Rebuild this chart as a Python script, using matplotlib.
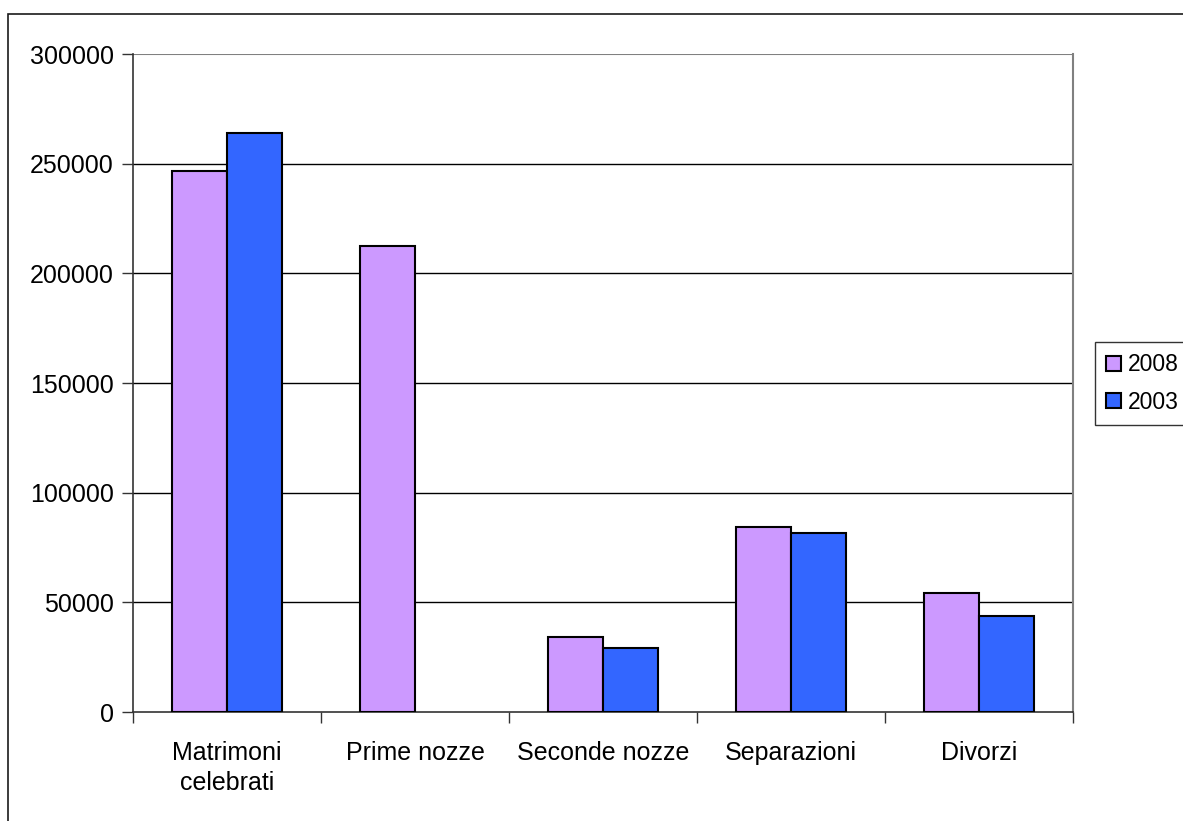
import numpy as np
import matplotlib
matplotlib.use("Agg")
import matplotlib.pyplot as plt
from matplotlib.patches import Rectangle

plt.rcParams['font.family'] = ['Liberation Sans', 'DejaVu Sans']

categories = ["Matrimoni\ncelebrati", "Prime nozze", "Seconde nozze", "Separazioni", "Divorzi"]
series_names = ["2008", "2003"]
values_2008 = [246613, 212476, 34137, 84165, 54351]
values_2003 = [264026, np.nan, 29300, 81744, 43856]
y_ticks = [0, 50000, 100000, 150000, 200000, 250000, 300000]

colors = ["#CC99FF", "#3366FF"]

W, H = 1183, 821
fig = plt.figure(figsize=(W / 100, H / 100), dpi=100)
fig.patch.set_facecolor("white")

# chart area frame
fig.patches.append(Rectangle((8 / W, -0.2), 1.5, 1.2 - 14 / H,
                             transform=fig.transFigure, fill=False,
                             edgecolor="#1a1a1a", linewidth=1.2, zorder=0))

ax = fig.add_axes([133 / W, (H - 712) / H, (1073 - 133) / W, (712 - 54) / H])

x = np.arange(len(categories))
bw = 0.29
ax.bar(x - bw / 2, values_2008, bw, color=colors[0], edgecolor="black",
       linewidth=1.5, label=series_names[0], zorder=3)
ax.bar(x + bw / 2, values_2003, bw, color=colors[1], edgecolor="black",
       linewidth=1.5, label=series_names[1], zorder=3)

ax.set_xlim(-0.5, len(categories) - 0.5)
ax.set_ylim(0, 300000)
ax.set_yticks(y_ticks)
ax.set_yticklabels([str(v) for v in y_ticks])

# category labels centred, ticks on category boundaries
ax.set_xticks(x)
ax.set_xticklabels(categories, linespacing=1.3)
ax.tick_params(axis="x", which="major", length=0, pad=21, labelsize=18)
ax.set_xticks(np.arange(-0.5, len(categories)), minor=True)
ax.tick_params(axis="x", which="minor", length=8, width=1, color="#333333",
               direction="out")
ax.tick_params(axis="y", length=8, width=1, color="#333333", pad=6,
               labelsize=18)

for v in y_ticks[1:-1]:
    ax.axhline(v, color="black", linewidth=1, zorder=1)
ax.axhline(300000, color="#808080", linewidth=1.5, zorder=1)

for side in ["left", "bottom"]:
    ax.spines[side].set_color("#333333")
    ax.spines[side].set_linewidth(1.2)
ax.spines["top"].set_visible(False)
ax.spines["right"].set_color("#808080")
ax.spines["right"].set_linewidth(1.5)

leg = fig.legend(loc="upper left", bbox_to_anchor=(1095 / W, 1 - 342 / H),
                 bbox_transform=fig.transFigure, frameon=True, fancybox=False,
                 fontsize=16.5, handlelength=0.62, handleheight=0.62,
                 handletextpad=0.3, labelspacing=0.62, borderpad=0.5,
                 borderaxespad=0)
leg.get_frame().set_edgecolor("black")
leg.get_frame().set_linewidth(1)

fig.savefig("out.png", dpi=100, facecolor="white")
